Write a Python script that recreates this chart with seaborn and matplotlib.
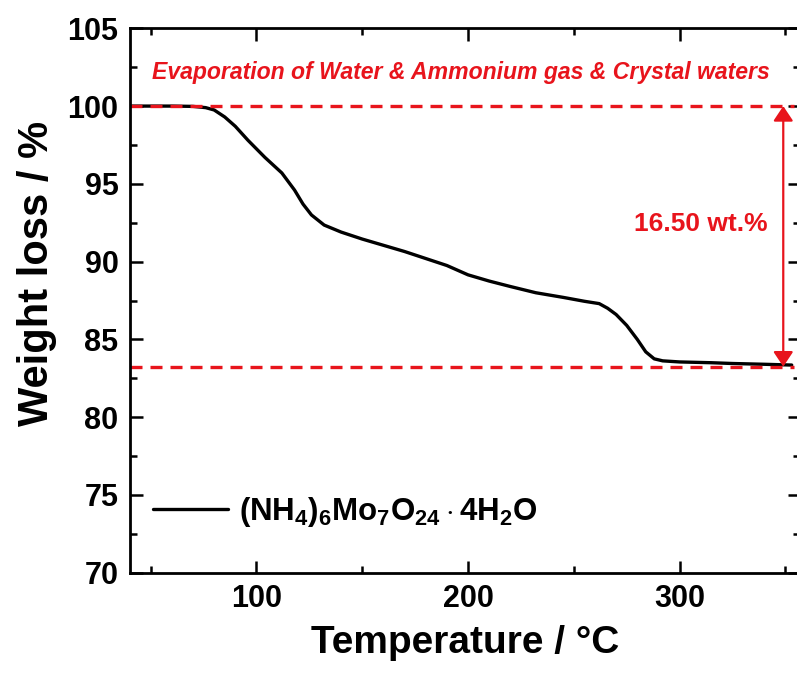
import numpy as np
import pandas as pd
import matplotlib
matplotlib.use("Agg")
import matplotlib.pyplot as plt
import seaborn as sns
from matplotlib.ticker import MultipleLocator

# ---- data ----
temperature = [40, 50, 60, 70, 76, 80, 85, 90, 96, 104, 112, 118, 122, 126, 132,
               140, 150, 160, 170, 180, 190, 200, 210, 220, 232, 245, 255, 262,
               266, 270, 275, 280, 284, 288, 292, 300, 315, 325, 340, 353]
weight = [100.0, 100.0, 100.0, 99.98, 99.9, 99.75, 99.3, 98.7, 97.8, 96.7, 95.7,
          94.6, 93.7, 93.0, 92.35, 91.9, 91.45, 91.05, 90.65, 90.2, 89.75, 89.15,
          88.75, 88.4, 88.0, 87.7, 87.45, 87.3, 87.0, 86.6, 85.9, 85.0, 84.2,
          83.75, 83.62, 83.55, 83.5, 83.45, 83.4, 83.35]
series_label = r'$\mathbf{(NH_4)_6Mo_7O_{24}\cdot 4H_2O}$'
start_level = 100.0
end_level = 83.25
loss_label = "16.50 wt.%"
title_text = "Evaporation of Water & Ammonium gas & Crystal waters"
x_ticks = [100, 200, 300]
y_ticks = [70, 75, 80, 85, 90, 95, 100, 105]

df = pd.DataFrame({"Temperature": temperature, "Weight": weight})

sns.set_style("ticks")
plt.rcParams['font.family'] = ['Liberation Sans', 'DejaVu Sans']
plt.rcParams['font.weight'] = 'bold'
plt.rcParams['text.color'] = 'black'
plt.rcParams['axes.labelcolor'] = 'black'
plt.rcParams['xtick.color'] = 'black'
plt.rcParams['ytick.color'] = 'black'
plt.rcParams['axes.edgecolor'] = 'black'
plt.rcParams['mathtext.fontset'] = 'custom'
plt.rcParams['mathtext.rm'] = 'Liberation Sans:bold'
plt.rcParams['mathtext.bf'] = 'Liberation Sans:bold'
plt.rcParams['mathtext.it'] = 'Liberation Sans:italic:bold'

fig = plt.figure(figsize=(7.97, 6.74), dpi=100)
ax = fig.add_axes([0.1625, 0.1503, 0.8415, 0.8077])

red = '#e8141c'
sns.lineplot(data=df, x="Temperature", y="Weight", ax=ax, color='black',
             lw=2.4, label=series_label)

ax.hlines([start_level, end_level], 40, 354, colors=red, lw=2.4,
          linestyles=[(0, (3.6, 2.4))])

ax.annotate("", xy=(349, start_level), xytext=(349, end_level),
            arrowprops=dict(arrowstyle='<|-|>,head_length=0.45,head_width=0.3',
                            color=red, lw=1.6, mutation_scale=20,
                            shrinkA=0, shrinkB=0))
ax.text(310, 92.45, loss_label, color=red, fontsize=19, fontweight='bold',
        ha='center', va='center')
ax.text(50.5, 102.15, title_text, color=red, fontsize=16.6, fontweight='bold',
        style='italic', ha='left', va='center')

ax.set_xlim(40, 357)
ax.set_ylim(70, 105)
ax.set_xticks(x_ticks)
ax.set_yticks(y_ticks)
ax.xaxis.set_minor_locator(MultipleLocator(50))
ax.yaxis.set_minor_locator(MultipleLocator(2.5))
ax.tick_params(which='both', direction='in', top=True, right=True, width=1.8,
               labelsize=22, pad=8)
ax.tick_params(which='major', length=9)
ax.tick_params(which='minor', length=5)
for s in ax.spines.values():
    s.set_linewidth(2.0)

ax.set_xlabel("Temperature / \u00b0C", fontsize=28, fontweight='bold', labelpad=8)
ax.set_ylabel("Weight loss / %", fontsize=30, fontweight='bold')
ax.yaxis.set_label_coords(-0.108, 0.55)

leg = ax.legend(loc='center left', bbox_to_anchor=(0.035, 0.112), frameon=False,
                fontsize=22.5, handlelength=2.4, handletextpad=0.35,
                borderpad=0, borderaxespad=0)

fig.savefig("out.png", dpi=100)
